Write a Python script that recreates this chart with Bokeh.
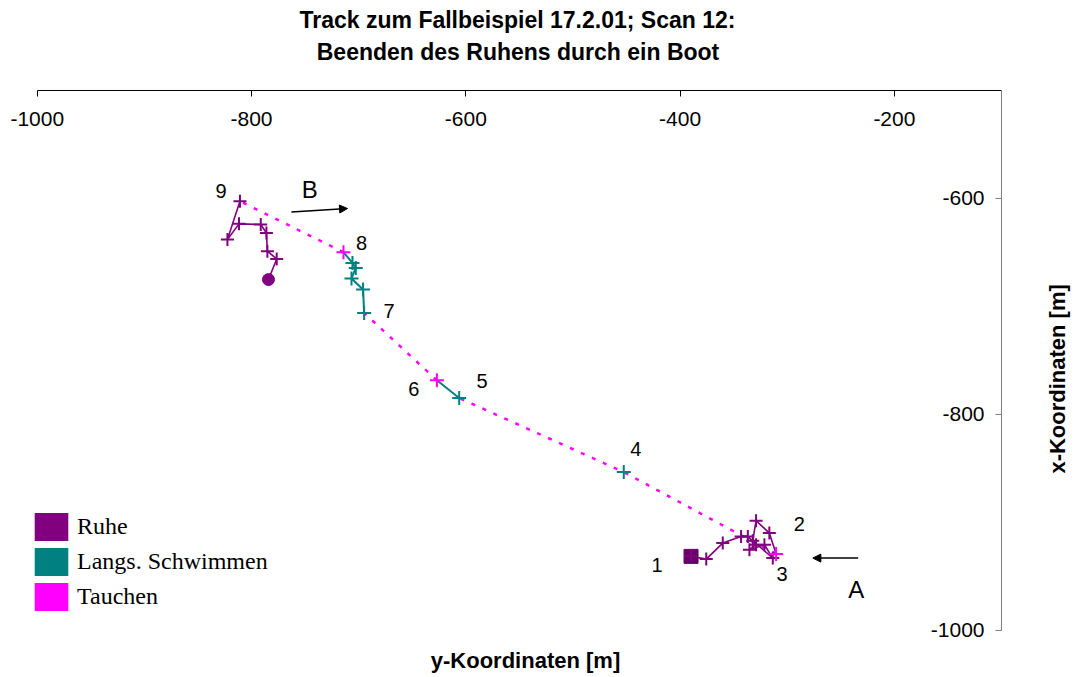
import math
from bokeh.plotting import figure
from bokeh.models import (LinearAxis, FixedTicker, Range1d, Legend, LegendItem,
                          Arrow, NormalHead, ColumnDataSource, Label)
from bokeh.core.properties import value
from bokeh.embed import file_html
from bokeh.resources import INLINE

# ---------------- data ----------------
title_line1 = "Track zum Fallbeispiel 17.2.01; Scan 12:"
title_line2 = "Beenden des Ruhens durch ein Boot"
x_label = "y-Koordinaten [m]"
y_label = "x-Koordinaten [m]"
x_ticks = [-1000, -800, -600, -400, -200]
y_ticks = [-1000, -800, -600]
x_axis_bounds = (-1000, -100)
y_axis_bounds = (-1000, -500)

# Ruhe (start, points 1 -> 3)
rest1_x = [-389.8, -375.6, -360.2, -343.1, -336.8, -329.1, -335.3, -321.3, -313.5, -332.2, -329.1, -316.7, -310.4]
rest1_y = [-931.5, -934.0, -919.2, -913.0, -913.0, -920.7, -925.3, -920.7, -933.1, -917.0, -898.4, -909.9, -929.4]
# Tauchen 3 -> 4 -> 5
dive1_x = [-310.4, -452.6, -606.2]
dive1_y = [-929.4, -853.4, -784.8]
# Langs. Schwimmen 5 -> 6
swim1_x = [-606.2, -627.0]
swim1_y = [-784.8, -768.4]
# Tauchen 6 -> 7
dive2_x = [-627.0, -694.9]
dive2_y = [-768.4, -706.0]
# Langs. Schwimmen 7 -> 8
swim2_x = [-694.9, -695.9, -706.7, -702.7, -705.8, -714.2]
swim2_y = [-706.0, -684.3, -674.1, -664.3, -659.7, -649.8]
# Tauchen 8 -> 9
dive3_x = [-714.2, -810.8]
dive3_y = [-649.8, -602.5]
# Ruhe 9 -> end
rest2_x = [-810.8, -822.5, -811.7, -791.4, -786.1, -785.2, -776.5, -784.2]
rest2_y = [-602.5, -638.0, -623.5, -624.1, -631.9, -648.8, -656.0, -675.1]

point_labels = ["1", "2", "3", "4", "5", "6", "7", "8", "9"]
arrow_labels = ["A", "B"]
arrow_x_start = [-233.8, -762.8]
arrow_y_start = [-933.1, -612.4]
arrow_x_end = [-276.1, -710.4]
arrow_y_end = [-933.1, -609.3]
arrow_label_x = [-235.7, -745.7]
arrow_label_y = [-962.1, -591.4]

legend_labels = ["Ruhe", "Langs. Schwimmen", "Tauchen"]

# ---------------- styles / placement ----------------
PURPLE = "#800080"
DARKPURPLE = "#660066"
TEAL = "#008080"
MAGENTA = "#FF00FF"
SANS = "Liberation Sans"
SERIF = "Liberation Serif"

# The frame covers the whole canvas; the chart's own plot area is -1000..-100 x -1000..-500
p = figure(width=1074, height=677, output_backend="svg", toolbar_location=None,
           title=None, x_range=Range1d(-1034.3, -31.9), y_range=Range1d(-1043.7, -416.6),
           x_axis_location=None, y_axis_location=None,
           min_border_left=0, min_border_right=0, min_border_top=0, min_border_bottom=0)
p.xgrid.visible = False
p.ygrid.visible = False
p.outline_line_color = None
p.background_fill_color = "white"
p.border_fill_color = "white"

# axis along the top edge of the plot area (labels inside)
xa = LinearAxis(fixed_location=y_axis_bounds[1], bounds=x_axis_bounds,
                ticker=FixedTicker(ticks=x_ticks),
                major_label_overrides={t: str(t) for t in x_ticks},
                major_tick_in=0, major_tick_out=6, minor_tick_in=0, minor_tick_out=0,
                axis_line_color="black", major_tick_line_color="black",
                major_label_text_font=SANS, major_label_text_font_size="21px",
                major_label_text_color="black", major_label_standoff=15)
p.add_layout(xa, "below")
# axis along the right edge of the plot area (labels inside)
ya = LinearAxis(fixed_location=x_axis_bounds[1], bounds=y_axis_bounds,
                ticker=FixedTicker(ticks=y_ticks),
                major_label_overrides={t: str(t) for t in y_ticks},
                major_tick_in=0, major_tick_out=6, minor_tick_in=0, minor_tick_out=0,
                axis_line_color="#808080", major_tick_line_color="#808080",
                major_label_text_font=SANS, major_label_text_font_size="21px",
                major_label_text_color="black", major_label_standoff=11)
p.add_layout(ya, "left")

# titles
title_style = dict(text_align="center", text_baseline="alphabetic", text_font=SANS,
                   text_font_style="bold", text_font_size="23px", text_color="black")
p.add_layout(Label(x=-551.8, y=-435.1, text=title_line1, **title_style))
p.add_layout(Label(x=-551.3, y=-464.1, text=title_line2, **title_style))

# axis titles
p.add_layout(Label(x=-544.3, y=-1027.6, text=x_label, text_align="center", text_baseline="alphabetic",
                   text_font=SANS, text_font_style="bold", text_font_size="22px", text_color="black"))
p.add_layout(Label(x=-47.7, y=-767.1, text=y_label, angle=math.pi / 2,
                   text_align="center", text_baseline="middle",
                   text_font=SANS, text_font_style="bold", text_font_size="22px",
                   text_color="black"))

# dive lines (dotted magenta)
for dx, dy in [(dive1_x, dive1_y), (dive2_x, dive2_y), (dive3_x, dive3_y)]:
    p.line(dx, dy, line_color=MAGENTA, line_width=2.5, line_dash="4 8")
# swim lines
for sx, sy in [(swim1_x, swim1_y), (swim2_x, swim2_y)]:
    p.line(sx, sy, line_color=TEAL, line_width=2)
# rest lines
for rx, ry in [(rest1_x, rest1_y), (rest2_x, rest2_y)]:
    p.line(rx, ry, line_color=PURPLE, line_width=1.6)

# start square, end circle
p.scatter([rest1_x[0]], [rest1_y[0]], marker="square", size=14, fill_color=DARKPURPLE, line_color=DARKPURPLE)
p.scatter([rest2_x[-1]], [rest2_y[-1]], marker="circle", size=12, fill_color=PURPLE, line_color=PURPLE)

# markers
rest_mx = rest1_x[:-1] + rest2_x[:-1]
rest_my = rest1_y[:-1] + rest2_y[:-1]
swim_mx = dive1_x[1:] + swim2_x[:-1]
swim_my = dive1_y[1:] + swim2_y[:-1]
dive_mx = [rest1_x[-1], swim1_x[-1], swim2_x[-1]]
dive_my = [rest1_y[-1], swim1_y[-1], swim2_y[-1]]
p.scatter(rest_mx, rest_my, marker="cross", size=13, line_color=PURPLE, line_width=2)
p.scatter(swim_mx, swim_my, marker="cross", size=14, line_color=TEAL, line_width=2)
p.scatter(dive_mx, dive_my, marker="cross", size=14, line_color=MAGENTA, line_width=2)

# point number labels
lab_x = [rest1_x[0], rest1_x[11], rest1_x[12], dive1_x[1], dive1_x[2], swim1_x[1], swim2_x[0], swim2_x[5], rest2_x[0]]
lab_y = [rest1_y[0], rest1_y[11], rest1_y[12], dive1_y[1], dive1_y[2], swim1_y[1], swim2_y[0], swim2_y[5], rest2_y[0]]
lab_dx = [-34, 30, 6, 12, 23, -23, 25, 18, -19]
lab_dy = [9, -9, 20, -23, -17, 9, -2, -9, -10]
src = ColumnDataSource(dict(x=lab_x, y=lab_y, t=point_labels, dx=lab_dx, dy=lab_dy))
p.text(x="x", y="y", text="t", x_offset="dx", y_offset="dy", source=src,
       text_font=value(SANS), text_font_size="20px", text_color="black",
       text_align="center", text_baseline="middle")

# arrows A / B
for i in range(2):
    p.add_layout(Arrow(x_start=arrow_x_start[i], y_start=arrow_y_start[i],
                       x_end=arrow_x_end[i], y_end=arrow_y_end[i],
                       line_color="black", line_width=1.5,
                       end=NormalHead(size=8, fill_color="black", line_color="black")))
p.text(x=arrow_label_x, y=arrow_label_y, text=arrow_labels,
       text_font=value(SANS), text_font_size="24px", text_color="black",
       text_align="center", text_baseline="middle")

# legend (swatch renderers carry a NaN row so only the legend swatch is drawn)
legend_colors = [PURPLE, TEAL, MAGENTA]
items = []
for lbl, col in zip(legend_labels, legend_colors):
    r = p.quad(left=[float("nan")], right=[float("nan")], top=[float("nan")], bottom=[float("nan")],
               fill_color=col, line_color=None)
    items.append(LegendItem(label=lbl, renderers=[r]))
legend = Legend(items=items, location=(30, 63), padding=0, margin=0, spacing=0,
                glyph_width=42, glyph_height=35, label_standoff=5,
                label_text_font=SERIF, label_text_font_size="24px", label_text_color="black",
                border_line_color=None, background_fill_alpha=0)
p.add_layout(legend)

open("out.html", "w").write(file_html(p, INLINE))
